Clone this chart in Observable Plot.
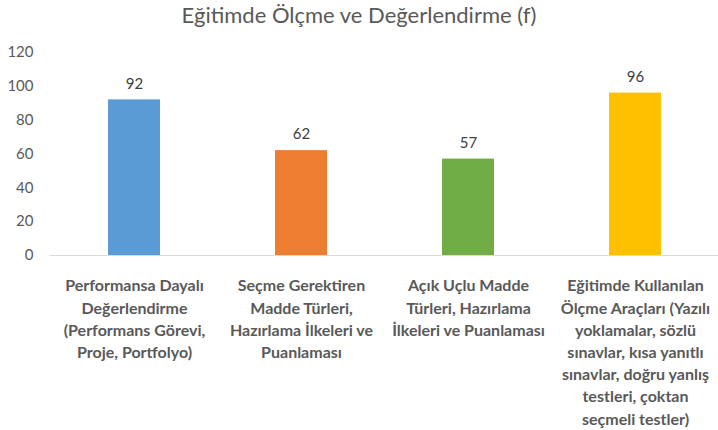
<!DOCTYPE html>
<html><head><meta charset="utf-8">
<script src="https://cdn.jsdelivr.net/npm/d3@7"></script>
<script src="https://cdn.jsdelivr.net/npm/@observablehq/plot@0.6"></script>
<style>
body{margin:0;background:#fff;font-family:Lato,sans-serif;}
#title{height:30px;line-height:30px;font-size:22px;color:#595959;text-align:center;width:718px;}
</style>
</head><body>
<div id="title">Eğitimde Ölçme ve Değerlendirme (f)</div>
<div id="chart"></div>
<script>
const categories = [
  "Performansa Dayalı\nDeğerlendirme\n(Performans Görevi,\nProje, Portfolyo)",
  "Seçme Gerektiren\nMadde Türleri,\nHazırlama İlkeleri ve\nPuanlaması",
  "Açık Uçlu Madde\nTürleri, Hazırlama\nİlkeleri ve Puanlaması",
  "Eğitimde Kullanılan\nÖlçme Araçları (Yazılı\nyoklamalar, sözlü\nsınavlar, kısa yanıtlı\nsınavlar, doğru yanlış\ntestleri, çoktan\nseçmeli testler)"
];
const values = [92, 62, 57, 96];
const colors = ["#5B9BD5", "#ED7D31", "#70AD47", "#FFC000"];
const yTicks = [0, 20, 40, 60, 80, 100, 120];

const data = categories.map((c, i) => ({category: c, value: values[i], color: colors[i]}));

const chart = Plot.plot({
  width: 718, height: 400,
  marginLeft: 50, marginRight: 0, marginTop: 22, marginBottom: 175,
  style: {fontFamily: "Lato, sans-serif", background: "#fff"},
  x: {domain: categories, paddingInner: 0.69, paddingOuter: 0.345, label: null},
  y: {domain: [0, 120], label: null},
  color: {type: "identity"},
  marks: [
    Plot.axisY({ticks: yTicks, tickSize: 0, tickPadding: 17, fontSize: 15, fill: "#595959", label: null}),
    Plot.axisX({tickSize: 0, tickPadding: 20, fontSize: 16, fontWeight: "bold", fill: "#595959", lineHeight: 1.39, label: null}),
    Plot.barY(data, {x: "category", y: "value", fill: "color"}),
    Plot.ruleY([0], {stroke: "#d9d9d9"}),
    Plot.text(data, {x: "category", y: "value", text: d => String(d.value), dy: -16, fontSize: 15, fill: "#404040"})
  ]
});
document.getElementById("chart").appendChild(chart);
</script>
</body></html>
